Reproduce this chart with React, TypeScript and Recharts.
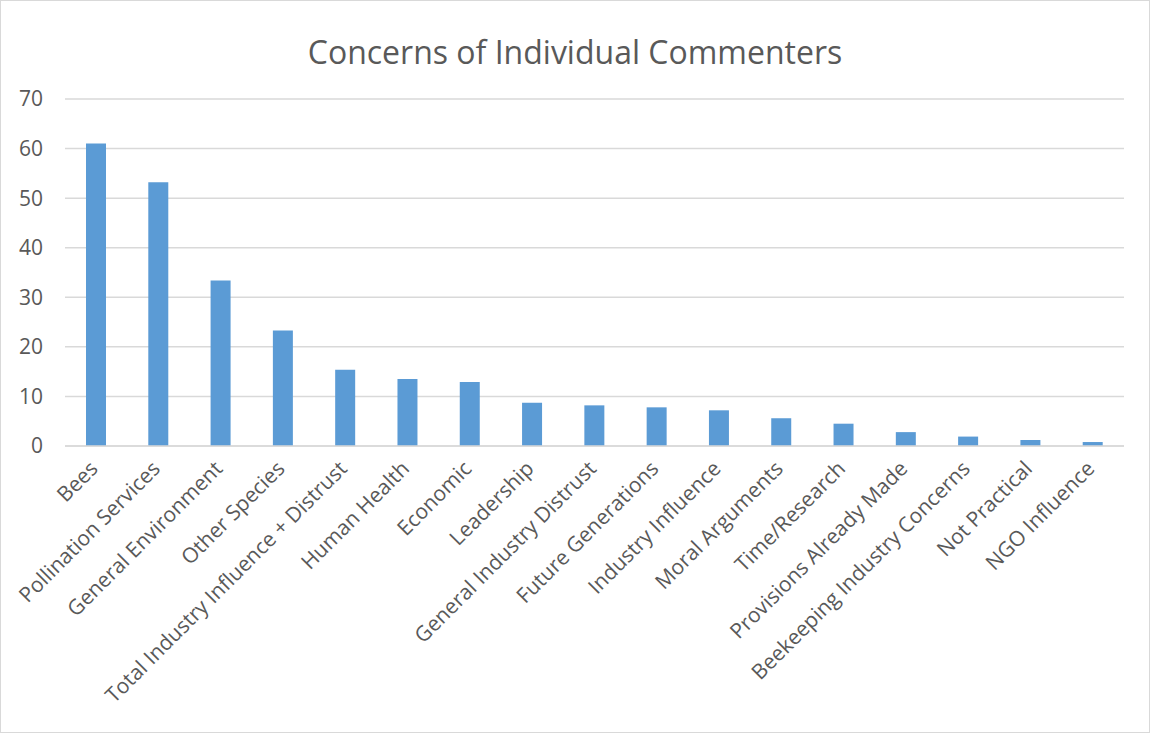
import React from 'react';
import { BarChart, Bar, XAxis, YAxis, CartesianGrid } from 'recharts';

const categories = [
  'Bees',
  'Pollination Services',
  'General Environment',
  'Other Species',
  'Total Industry Influence + Distrust',
  'Human Health',
  'Economic',
  'Leadership',
  'General Industry Distrust',
  'Future Generations',
  'Industry Influence',
  'Moral Arguments',
  'Time/Research',
  'Provisions Already Made',
  'Beekeeping Industry Concerns',
  'Not Practical',
  'NGO Influence',
];

const counts = [61, 53.2, 33.4, 23.3, 15.4, 13.5, 12.9, 8.7, 8.2, 7.8, 7.2, 5.6, 4.5, 2.8, 1.9, 1.2, 0.8];

const yTicks = [0, 10, 20, 30, 40, 50, 60, 70];

const FONT = '"Open Sans", "Noto Sans", sans-serif';
const TEXT = '#595959';

const data = categories.map((name, i) => ({ name, value: counts[i] }));

// rotated category label, right end sits just under the bar
const XTick = (props: any) => {
  const { x, y, payload } = props;
  return (
    <g transform={`translate(${x + 3},${y + 22})`}>
      <text
        x={0}
        y={0}
        textAnchor="end"
        transform="rotate(-45)"
        fill={TEXT}
        fontSize={21}
        fontFamily={FONT}
      >
        {payload.value}
      </text>
    </g>
  );
};

export default function App() {
  return (
    <div
      style={{
        position: 'absolute',
        left: 0,
        top: 0,
        width: 1148,
        height: 731,
        border: '1px solid #d9d9d9',
        background: '#fff',
        fontFamily: FONT,
      }}
    >
      <div
        style={{
          position: 'absolute',
          left: 0,
          top: 29,
          width: 1148,
          textAlign: 'center',
          fontSize: 32,
          color: TEXT,
        }}
      >
        Concerns of Individual Commenters
      </div>
      <BarChart
        width={1148}
        height={731}
        data={data}
        margin={{ top: 98, right: 25, left: 0, bottom: 6 }}
        barSize={20}
      >
        <CartesianGrid vertical={false} stroke="#d9d9d9" strokeWidth={1.5} />
        <XAxis
          dataKey="name"
          interval={0}
          height={280}
          tickLine={false}
          tickSize={0}
          axisLine={{ stroke: '#d9d9d9', strokeWidth: 1.5 }}
          tick={<XTick />}
        />
        <YAxis
          domain={[0, 70]}
          ticks={yTicks}
          width={64}
          axisLine={false}
          tickLine={false}
          tickSize={0}
          tickMargin={22}
          tick={{ fill: TEXT, fontSize: 21, fontFamily: FONT }}
        />
        <Bar dataKey="value" fill="#5b9bd5" isAnimationActive={false} />
      </BarChart>
    </div>
  );
}
